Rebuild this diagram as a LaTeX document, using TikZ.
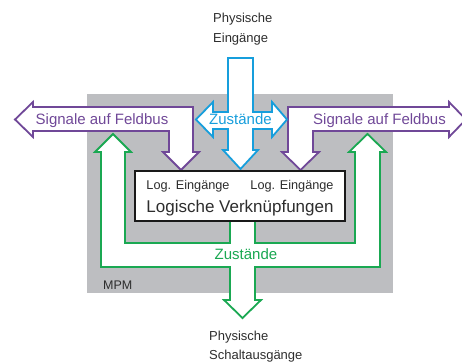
\documentclass[tikz,border=0pt]{standalone}
\usepackage{fontspec}
\setmainfont{Liberation Sans}
\definecolor{feldbus}{RGB}{112,72,152}
\definecolor{zustand}{RGB}{22,158,220}
\definecolor{ausgang}{RGB}{26,168,82}
\definecolor{mpmgray}{RGB}{189,190,193}
\definecolor{txt}{RGB}{45,45,45}

\begin{document}
\begin{tikzpicture}[x=1pt,y=-1pt,
    fat/.style={line width=1.8pt,fill=white,line join=miter},
    lbl/.style={inner sep=0pt,anchor=base,text=txt},
    sz/.style={font=\fontsize{#1}{#1}\selectfont}]
   \useasboundingbox (0,0) rectangle (462,362);
   \fill[mpmgray] (87,94) rectangle (393,293);
   % gruene Ausgaenge
   \draw[fat,draw=ausgang] (113,134) -- (131,152) -- (125,152) -- (125,243) -- (230,243)
       -- (230,221) -- (255,221) -- (255,243) -- (355,243) -- (355,152) -- (349,152)
       -- (367.5,134) -- (386,152) -- (380,152) -- (380,267) -- (255,267) -- (255,300)
       -- (261,300) -- (242.5,318) -- (224,300) -- (230,300) -- (230,267) -- (101,267)
       -- (101,152) -- (95,152) -- cycle;
   % Feldbus
   \draw[fat,draw=feldbus] (15,119.5) -- (33,102) -- (33,107) -- (193,107) -- (193,152)
       -- (199,152) -- (181,170) -- (163,152) -- (169,152) -- (169,131) -- (33,131)
       -- (33,137) -- cycle;
   \draw[fat,draw=feldbus] (288,107) -- (449,107) -- (449,102) -- (466,119.5) -- (449,137)
       -- (449,131) -- (313,131) -- (313,152) -- (319,152) -- (300.5,170) -- (282,152)
       -- (288,152) -- cycle;
   % Eingaenge
   \draw[fat,draw=zustand] (228,58) -- (253,58) -- (253,112) -- (272,112) -- (272,102)
       -- (287,119.5) -- (272,137) -- (272,129) -- (253,129) -- (253,150) -- (258,150)
       -- (240.5,169) -- (223,150) -- (228,150) -- (228,129) -- (213,129) -- (213,137)
       -- (196,119.5) -- (213,102) -- (213,112) -- (228,112) -- cycle;
   \node[draw=black!90,line width=1.8pt,fill=white,minimum width=210pt,
         minimum height=50pt,inner sep=0pt] (logic) at (240,196) {};

   \node[lbl,sz=13,anchor=base west] (in_a) at (213,22.7) {Physische};
   \node[lbl,sz=13,anchor=base west] (in_b) at (213,42) {Eingänge};
   \node[lbl,sz=13,anchor=base west] (out_a) at (209,340) {Physische};
   \node[lbl,sz=13,anchor=base west] (out_b) at (209,359) {Schaltausgänge};
   \node[lbl,sz=15,text=feldbus] (sig_l) at (102,124.5) {Signale auf Feldbus};
   \node[lbl,sz=15,text=feldbus] (sig_r) at (379.5,124.5) {Signale auf Feldbus};
   \node[lbl,sz=15,text=zustand] (zst_in) at (240.5,124.5) {Zustände};
   \node[lbl,sz=15,text=ausgang] (zst_out) at (246,259) {Zustände};
   \node[lbl,sz=12.7] (ein_l) at (188,189) {Log. Eingänge};
   \node[lbl,sz=12.7] (ein_r) at (292,189) {Log. Eingänge};
   \node[lbl,sz=17] (verkn) at (240,212) {Logische Verknüpfungen};
   \node[lbl,sz=12.5,anchor=base west] (mpm) at (103,289) {MPM};
\end{tikzpicture}
\end{document}
